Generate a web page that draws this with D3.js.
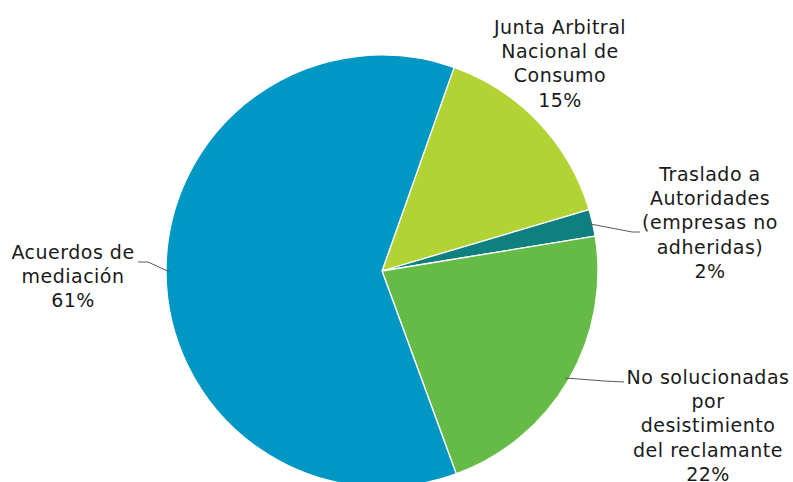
<!DOCTYPE html>
<html>
<head>
<meta charset="utf-8">
<script src="https://cdn.jsdelivr.net/npm/d3@7"></script>
<style>
  html, body { margin: 0; padding: 0; background: #fff; }
  svg text { font-family: "DejaVu Sans", Verdana, sans-serif; font-size: 19px; letter-spacing: 0.5px; fill: #1a1a1a; }
</style>
</head>
<body>
<svg id="chart" width="793" height="482"></svg>
<script>
// Reclamaciones por tipo de resolución (%)
const categories = [
  "Junta Arbitral Nacional de Consumo",
  "Traslado a Autoridades (empresas no adheridas)",
  "No solucionadas por desistimiento del reclamante",
  "Acuerdos de mediación"
];
const values = [15, 2, 22, 61];
const colors = ["#B3D335", "#0E8080", "#66BB46", "#0097C4"];

// Label lines, leader line points and label anchor for each slice
const labelLines = [
  ["Junta Arbitral", "Nacional de", "Consumo", "15%"],
  ["Traslado a", "Autoridades", "(empresas no", "adheridas)", "2%"],
  ["No solucionadas", "por", "desistimiento", "del reclamante", "22%"],
  ["Acuerdos de", "mediación", "61%"]
];
const labelPos = [[560, 34], [710, 181], [708, 384], [73, 259]];
const leaders = [
  null,
  [[640, 232], [632, 232]],
  [[624, 382], [604, 381]],
  [[138, 262], [148, 262]]
];

const svg = d3.select("#chart");
const cx = 382, cy = 271, r = 216;
const startDeg = 19.5;

const pie = d3.pie().sort(null)
  .startAngle(startDeg * Math.PI / 180)
  .endAngle((startDeg + 360) * Math.PI / 180);
const arcs = pie(values);
const arc = d3.arc().innerRadius(0).outerRadius(r);

const g = svg.append("g").attr("transform", `translate(${cx},${cy})`);
g.selectAll("path").data(arcs).enter().append("path")
  .attr("d", arc)
  .attr("fill", (d, i) => colors[i])
  .attr("stroke", "#ffffff")
  .attr("stroke-width", 1.3)
  .attr("stroke-linejoin", "round");

// Leader lines: from label to a point on the slice's outer edge
arcs.forEach((d, i) => {
  if (!leaders[i]) return;
  const mid = (d.startAngle + d.endAngle) / 2;
  const edge = [cx + (r - 4) * Math.sin(mid), cy - (r - 4) * Math.cos(mid)];
  const pts = leaders[i].concat([edge]);
  svg.append("path")
    .attr("d", d3.line()(pts))
    .attr("fill", "none")
    .attr("stroke", "#595959")
    .attr("stroke-width", 1);
});

// Labels
labelLines.forEach((lines, i) => {
  const t = svg.append("text")
    .attr("text-anchor", "middle")
    .attr("x", labelPos[i][0])
    .attr("y", labelPos[i][1]);
  lines.forEach((ln, j) => {
    t.append("tspan")
      .attr("x", labelPos[i][0])
      .attr("dy", j === 0 ? 0 : 24.2)
      .text(ln);
  });
});
</script>
</body>
</html>
